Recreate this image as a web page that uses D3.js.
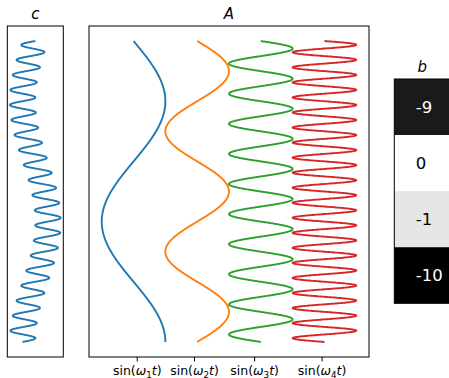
<!DOCTYPE html>
<html>
<head>
<meta charset="utf-8">
<script src="https://cdn.jsdelivr.net/npm/d3@7"></script>
<style>
  html, body { margin: 0; padding: 0; background: #fff; }
  svg { display: block; }
  text { font-family: "DejaVu Sans", sans-serif; }
</style>
</head>
<body>
<svg id="chart" width="449" height="378"></svg>
<script>
// ---- data ----
const seriesNames = ["1", "2", "3", "4"];          // subscripts of ω in the labels
const omegas = [1, 2, 8, 16];                        // angular frequencies
const offsets = [0, 2, 4, 6];                        // horizontal offset of each curve in A
const seriesColors = ["#1f77b4", "#ff7f0e", "#2ca02c", "#d62728"];
const tickPositions = [0.1, 1.9, 3.79, 5.91];        // x tick positions in A
const tStart = 0;
const tEnd = 2.5 * Math.PI;
const nSamples = 2000;
const cOmegas = [1, 16];                              // panel c: sum of these sines
const heatValues = [-9, 0, -1, -10];                  // panel b column
const panelTitles = { c: "c", A: "A", b: "b" };

// ---- layout ----
const svg = d3.select("#chart");
const frameC = { x0: 7.3, x1: 63.3, y0: 26, y1: 357 };
const frameA = { x0: 89, x1: 369, y0: 26, y1: 357 };
const frameB = { x0: 394.3, x1: 450.3, y0: 79, y1: 303.3 };

const tSamples = d3.range(nSamples + 1).map(i => tStart + (tEnd - tStart) * i / nSamples);
const tPad = 0.05 * (tEnd - tStart);

// ---- panel A ----
const xA = d3.scaleLinear().domain([-1.4, 7.4]).range([frameA.x0, frameA.x1]);
const yA = d3.scaleLinear().domain([tStart - tPad, tEnd + tPad]).range([frameA.y0, frameA.y1]);

const gA = svg.append("g");
omegas.forEach((w, i) => {
  const line = d3.line()
    .x(t => xA(offsets[i] + Math.sin(w * t)))
    .y(t => yA(t));
  gA.append("path")
    .datum(tSamples)
    .attr("d", line)
    .attr("fill", "none")
    .attr("stroke", seriesColors[i])
    .attr("stroke-width", 1.9)
    .attr("stroke-linejoin", "round")
    .attr("stroke-linecap", "butt");
});
gA.append("rect")
  .attr("x", frameA.x0).attr("y", frameA.y0)
  .attr("width", frameA.x1 - frameA.x0).attr("height", frameA.y1 - frameA.y0)
  .attr("fill", "none").attr("stroke", "#000").attr("stroke-width", 1);

// x axis ticks via d3 axis
const axisA = d3.axisBottom(xA).tickValues(tickPositions).tickSize(4.4).tickPadding(4.4).tickFormat(() => "");
const axG = svg.append("g").attr("transform", `translate(0,${frameA.y1})`).call(axisA);
axG.select(".domain").remove();
axG.selectAll(".tick line").attr("stroke", "#000").attr("stroke-width", 1);
axG.selectAll(".tick").each(function(d, i) {
  const t = d3.select(this).append("text")
    .attr("x", 0).attr("y", 18.3)
    .attr("text-anchor", "middle")
    .attr("fill", "#000")
    .style("font-size", "12.5px")
    .style("font-family", '"DejaVu Sans", sans-serif');
  t.append("tspan").text("sin(");
  t.append("tspan").style("font-style", "italic").text("ω");
  t.append("tspan").style("font-size", "8.75px").attr("dy", 2.2).text(seriesNames[i]);
  t.append("tspan").style("font-style", "italic").attr("dy", -2.2).text("t");
  t.append("tspan").text(")");
});

// ---- panel c ----
const xC = d3.scaleLinear().domain([2.2, -2.2]).range([frameC.x0, frameC.x1]);
const yC = d3.scaleLinear().domain([tStart - tPad, tEnd + tPad]).range([frameC.y0, frameC.y1]);
const gC = svg.append("g");
gC.append("path")
  .datum(tSamples)
  .attr("d", d3.line()
    .x(t => xC(d3.sum(cOmegas, w => Math.sin(w * t))))
    .y(t => yC(t)))
  .attr("fill", "none")
  .attr("stroke", seriesColors[0])
  .attr("stroke-width", 1.9)
  .attr("stroke-linejoin", "round");
gC.append("rect")
  .attr("x", frameC.x0).attr("y", frameC.y0)
  .attr("width", frameC.x1 - frameC.x0).attr("height", frameC.y1 - frameC.y0)
  .attr("fill", "none").attr("stroke", "#000").attr("stroke-width", 1);

// ---- panel b ----
const yB = d3.scaleBand().domain(d3.range(heatValues.length)).range([frameB.y0, frameB.y1]).padding(0);
const colorB = d3.scaleLinear().domain([-10, 0]).range(["#000000", "#ffffff"]);
const gB = svg.append("g");
gB.selectAll("rect.cell")
  .data(heatValues)
  .join("rect")
  .attr("class", "cell")
  .attr("x", frameB.x0)
  .attr("y", (d, i) => yB(i))
  .attr("width", frameB.x1 - frameB.x0)
  .attr("height", yB.bandwidth())
  .attr("fill", d => colorB(d));
gB.selectAll("text.val")
  .data(heatValues)
  .join("text")
  .attr("class", "val")
  .attr("x", 415.8)
  .attr("y", (d, i) => yB(i) + yB.bandwidth() / 2 + 6)
  .attr("text-anchor", "start")
  .style("font-size", "16.5px")
  .attr("fill", d => d <= -5 ? "#ffffff" : "#000000")
  .text(d => String(d));
gB.append("rect")
  .attr("x", frameB.x0).attr("y", frameB.y0)
  .attr("width", frameB.x1 - frameB.x0).attr("height", frameB.y1 - frameB.y0)
  .attr("fill", "none").attr("stroke", "#000").attr("stroke-width", 1);

// ---- titles ----
function title(txt, x, y) {
  svg.append("text")
    .attr("x", x).attr("y", y)
    .attr("text-anchor", "middle")
    .style("font-size", "15px")
    .style("font-style", "italic")
    .attr("fill", "#000")
    .text(txt);
}
title(panelTitles.c, (frameC.x0 + frameC.x1) / 2, 18.5);
title(panelTitles.A, (frameA.x0 + frameA.x1) / 2, 18.5);
title(panelTitles.b, (frameB.x0 + frameB.x1) / 2, 72);
</script>
</body>
</html>
